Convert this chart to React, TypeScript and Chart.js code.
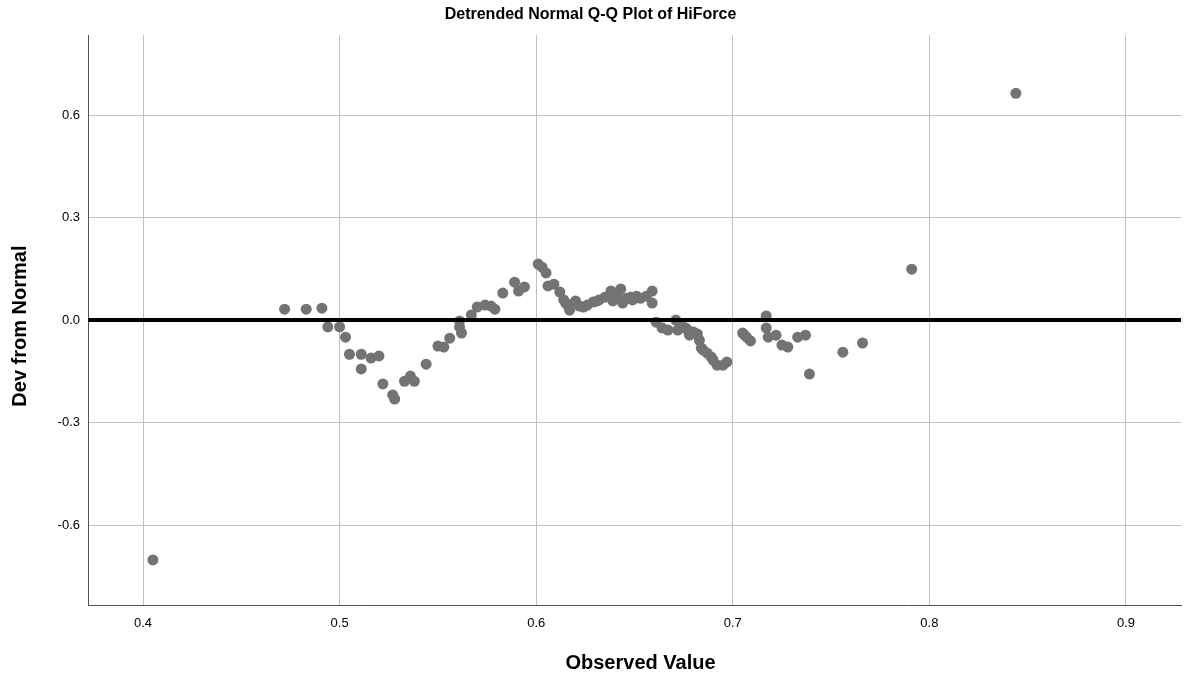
import React, { useEffect, useRef } from "react";
import { Chart, registerables } from "chart.js";

Chart.register(...registerables);

const observed: number[] = [
  0.405, 0.472, 0.483, 0.491, 0.494, 0.5, 0.503, 0.505, 0.511, 0.511,
  0.516, 0.52, 0.522, 0.527, 0.528, 0.533, 0.536, 0.538, 0.544, 0.55,
  0.553, 0.556, 0.561, 0.561, 0.562, 0.567, 0.57, 0.574, 0.577, 0.579,
  0.583, 0.589, 0.591, 0.594, 0.601, 0.603, 0.605, 0.606, 0.609, 0.612,
  0.614, 0.615, 0.616, 0.617, 0.62, 0.622, 0.624, 0.626, 0.629, 0.631,
  0.632, 0.635, 0.638, 0.639, 0.641, 0.643, 0.644, 0.646, 0.648, 0.649,
  0.651, 0.653, 0.656, 0.659, 0.659, 0.661, 0.664, 0.667, 0.671, 0.672,
  0.674, 0.676, 0.677, 0.678, 0.68, 0.682, 0.683, 0.684, 0.685, 0.687,
  0.689, 0.69, 0.692, 0.695, 0.697, 0.705, 0.706, 0.707, 0.709, 0.717,
  0.717, 0.718, 0.722, 0.725, 0.728, 0.733, 0.737, 0.739, 0.756, 0.766,
  0.791, 0.844,
];

const deviation: number[] = [
  -0.702, 0.032, 0.032, 0.035, -0.02, -0.02, -0.05, -0.1, -0.1, -0.143,
  -0.111, -0.105, -0.187, -0.219, -0.231, -0.179, -0.164, -0.179, -0.129, -0.076,
  -0.079, -0.053, -0.003, -0.02, -0.038, 0.015, 0.038, 0.044, 0.041, 0.032,
  0.079, 0.111, 0.085, 0.097, 0.164, 0.155, 0.138, 0.1, 0.105, 0.082,
  0.059, 0.05, 0.044, 0.029, 0.056, 0.041, 0.038, 0.044, 0.053, 0.056,
  0.059, 0.067, 0.085, 0.056, 0.07, 0.091, 0.05, 0.064, 0.067, 0.059,
  0.07, 0.064, 0.07, 0.085, 0.05, -0.006, -0.023, -0.029, 0.0, -0.029,
  -0.015, -0.023, -0.029, -0.044, -0.035, -0.041, -0.059, -0.082, -0.088, -0.097,
  -0.108, -0.117, -0.132, -0.132, -0.123, -0.038, -0.044, -0.05, -0.061, 0.012,
  -0.023, -0.05, -0.044, -0.073, -0.079, -0.05, -0.044, -0.158, -0.094, -0.067,
  0.149, 0.664,
];

const xTicks: number[] = [0.4, 0.5, 0.6, 0.7, 0.8, 0.9];
const yTicks: number[] = [-0.6, -0.3, 0.0, 0.3, 0.6];
const xRange: number[] = [0.372, 0.928];
const yRange: number[] = [-0.834, 0.834];
const referenceLine: number[] = [0, 0];

const FONT = "'Liberation Sans', Arial, Helvetica, sans-serif";

const axisTitles = {
  id: "axisTitles",
  afterDraw(chart: any) {
    const ctx = chart.ctx;
    const area = chart.chartArea;
    ctx.save();
    ctx.fillStyle = "#000000";
    ctx.font = `bold 20px ${FONT}`;
    ctx.textAlign = "center";
    ctx.textBaseline = "middle";
    ctx.fillText("Observed Value", (area.left + area.right) / 2 + 6, 663);
    ctx.translate(20, (area.top + area.bottom) / 2 + 6);
    ctx.rotate(-Math.PI / 2);
    ctx.fillText("Dev from Normal", 0, 0);
    ctx.restore();
  },
};

export default function App() {
  const ref = useRef<HTMLCanvasElement | null>(null);

  useEffect(() => {
    document.body.style.margin = "0";
    const canvas = ref.current;
    if (!canvas) return;
    const points = observed.map((x, i) => ({ x, y: deviation[i] }));
    const line = xRange.map((x, i) => ({ x, y: referenceLine[i] }));

    const chart = new Chart(canvas, {
      type: "scatter",
      data: {
        datasets: [
          {
            type: "line",
            data: line,
            borderColor: "#000000",
            borderWidth: 4,
            pointRadius: 0,
            order: 0,
          } as any,
          {
            type: "scatter",
            data: points,
            backgroundColor: "#737373",
            borderWidth: 0,
            pointRadius: 5.5,
            order: 1,
          },
        ],
      },
      options: {
        animation: false,
        responsive: false,
        devicePixelRatio: 1,
        layout: { padding: { left: 0, right: 6, top: 0, bottom: 0 } },
        plugins: {
          legend: { display: false },
          tooltip: { enabled: false },
          title: {
            display: true,
            text: "Detrended Normal Q-Q Plot of HiForce",
            color: "#000000",
            font: { family: FONT, size: 16, weight: "bold" },
            padding: { top: 5, bottom: 11 },
          },
        },
        scales: {
          x: {
            type: "linear",
            min: xRange[0],
            max: xRange[1],
            afterBuildTicks: (scale: any) => {
              scale.ticks = xTicks.map((v) => ({ value: v }));
            },
            afterFit: (scale: any) => {
              scale.height = 76;
            },
            ticks: {
              color: "#000000",
              font: { family: FONT, size: 13 },
              padding: 11,
              callback: (v: any) => Number(v).toFixed(1),
            },
            grid: { color: "#c0c0c0", lineWidth: 1, drawTicks: false },
            border: { display: true, color: "#555555", width: 1 },
          },
          y: {
            type: "linear",
            min: yRange[0],
            max: yRange[1],
            afterBuildTicks: (scale: any) => {
              scale.ticks = yTicks.map((v) => ({ value: v }));
            },
            afterFit: (scale: any) => {
              scale.width = 88;
            },
            ticks: {
              color: "#000000",
              font: { family: FONT, size: 13 },
              padding: 8,
              callback: (v: any) => Number(v).toFixed(1),
            },
            grid: { color: "#c0c0c0", lineWidth: 1, drawTicks: false },
            border: { display: true, color: "#555555", width: 1 },
          },
        },
      },
      plugins: [axisTitles],
    });

    return () => chart.destroy();
  }, []);

  return (
    <canvas
      ref={ref}
      width={1187}
      height={681}
      style={{ display: "block", width: 1187, height: 681 }}
    />
  );
}
